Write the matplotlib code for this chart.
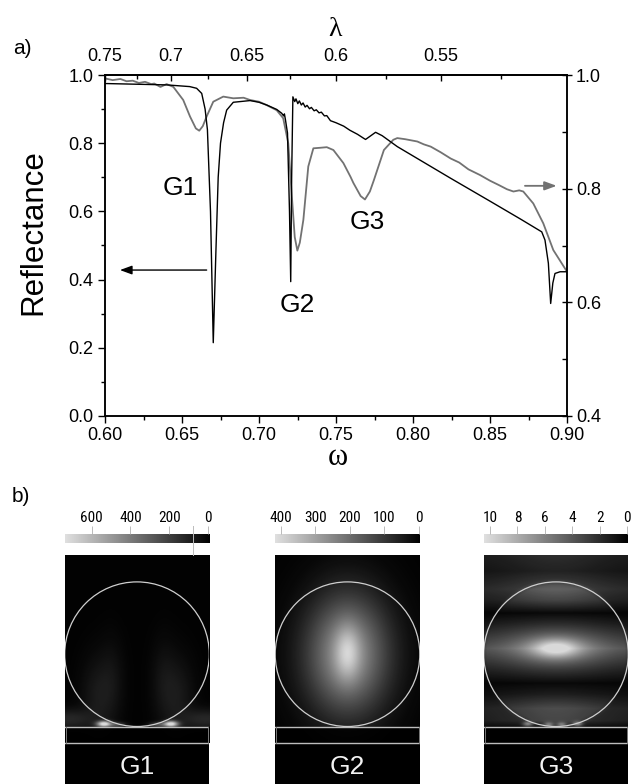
import numpy as np
import matplotlib
matplotlib.use('Agg')
import matplotlib.pyplot as plt
from matplotlib.colors import LinearSegmentedColormap
from matplotlib.ticker import FixedLocator, FuncFormatter, MultipleLocator
from matplotlib.patches import Circle, Rectangle
from matplotlib.lines import Line2D
from matplotlib import font_manager

# ---------------- data: panel a ----------------
black_w = [0.600, 0.620, 0.640, 0.655, 0.6595, 0.6628, 0.6650, 0.6665, 0.6685, 0.6703,
           0.6720, 0.6735, 0.6750, 0.6770, 0.6790, 0.6833, 0.6942, 0.7000, 0.7050, 0.7115,
           0.7147, 0.7160, 0.7165, 0.7172, 0.7185, 0.7198, 0.7206, 0.7212, 0.7220, 0.7232,
           0.7240, 0.7252, 0.7262, 0.7275, 0.7286, 0.7300, 0.7312, 0.7328, 0.7340, 0.7358,
           0.7372, 0.7390, 0.7405, 0.7425, 0.7440, 0.7464, 0.7500, 0.7550, 0.7590, 0.7640,
           0.7681, 0.7692, 0.7720, 0.7757, 0.7800, 0.7898, 0.8245, 0.8500, 0.8700, 0.8836,
           0.8857, 0.8879, 0.8894, 0.8908, 0.8922, 0.8955, 0.9000]
black_R = [0.975, 0.973, 0.971, 0.966, 0.961, 0.946, 0.900, 0.840, 0.600, 0.215,
           0.480, 0.700, 0.800, 0.860, 0.897, 0.920, 0.925, 0.920, 0.912, 0.899,
           0.888, 0.880, 0.886, 0.868, 0.830, 0.600, 0.394, 0.700, 0.936, 0.922,
           0.930, 0.916, 0.924, 0.912, 0.918, 0.906, 0.911, 0.901, 0.905, 0.895,
           0.898, 0.889, 0.891, 0.880, 0.881, 0.866, 0.860, 0.850, 0.838, 0.826,
           0.814, 0.811, 0.820, 0.832, 0.822, 0.790, 0.697, 0.630, 0.577, 0.540,
           0.516, 0.448, 0.330, 0.390, 0.418, 0.423, 0.423]

grey_w = [0.600, 0.605, 0.610, 0.614, 0.618, 0.622, 0.626, 0.630, 0.632, 0.636,
          0.640, 0.6444, 0.6508, 0.6552, 0.6590, 0.6612, 0.6635, 0.6660, 0.6703, 0.6768,
          0.6833, 0.6900, 0.6942, 0.7000, 0.7050, 0.7115, 0.7157, 0.7190, 0.7212, 0.7232,
          0.7249, 0.7265, 0.7288, 0.7320, 0.7353, 0.7400, 0.7440, 0.7483, 0.7548, 0.7594,
          0.7613, 0.7660, 0.7688, 0.7720, 0.7746, 0.7811, 0.7872, 0.7898, 0.7950, 0.8028,
          0.8070, 0.8115, 0.8180, 0.8245, 0.8300, 0.8360, 0.8435, 0.8500, 0.8560, 0.8610,
          0.8652, 0.8690, 0.8716, 0.8781, 0.8846, 0.8911, 0.9000]
grey_R = [0.994, 0.991, 0.993, 0.989, 0.990, 0.986, 0.988, 0.984, 0.985, 0.979,
          0.984, 0.979, 0.956, 0.927, 0.906, 0.902, 0.910, 0.927, 0.953, 0.962,
          0.959, 0.960, 0.956, 0.953, 0.947, 0.938, 0.924, 0.880, 0.792, 0.715,
          0.691, 0.705, 0.745, 0.839, 0.871, 0.872, 0.873, 0.868, 0.845, 0.821,
          0.810, 0.787, 0.781, 0.795, 0.815, 0.868, 0.886, 0.889, 0.887, 0.883,
          0.878, 0.874, 0.864, 0.853, 0.846, 0.834, 0.824, 0.814, 0.806, 0.799,
          0.795, 0.797, 0.795, 0.774, 0.739, 0.692, 0.654]

lam_major = [0.75, 0.7, 0.65, 0.6, 0.55]
lam_minor = [0.725, 0.675, 0.625, 0.575, 0.525]
lam_const = 0.45   # lambda = 0.45 / omega

peak_labels = ["G1", "G2", "G3"]
peak_label_w = [0.6488, 0.7247, 0.7703]
peak_label_R = [0.668, 0.3255, 0.570]

# ---------------- data: panel b ----------------
cbar_ticks = [[600, 400, 200, 0], [400, 300, 200, 100, 0], [10, 8, 6, 4, 2, 0]]
cbar_range = [(737, -6), (416, -3), (10.44, -0.06)]

# blobs: (u, v, sigma_u, sigma_v, amplitude) in units of the circle radius
G1_blobs = [(-0.46, 0.965, 0.07, 0.03, 0.95), (0.46, 0.965, 0.07, 0.03, 0.95),
            (-0.28, 0.975, 0.08, 0.025, 0.30), (0.28, 0.975, 0.08, 0.025, 0.30),
            (-0.95, 0.90, 0.22, 0.10, 0.16), (0.95, 0.90, 0.22, 0.10, 0.16),
            (-0.55, 0.60, 0.16, 0.40, 0.10), (0.55, 0.60, 0.16, 0.40, 0.10),
            (-0.35, 0.35, 0.12, 0.40, 0.06), (0.35, 0.35, 0.12, 0.40, 0.06)]
G2_blobs = [(0.0, 0.0, 0.40, 0.58, 0.65), (0.0, -0.02, 0.12, 0.26, 0.30)]
G3_blobs = [(0.0, -0.08, 0.22, 0.09, 0.40), (0.0, -0.08, 0.45, 0.15, 0.12),
            (-0.39, 0.965, 0.05, 0.025, 0.45), (-0.10, 0.975, 0.05, 0.025, 0.40),
            (0.08, 0.975, 0.05, 0.025, 0.40), (0.30, 0.965, 0.05, 0.025, 0.45)]
G3_band_v = [-1.40, -1.15, -0.90, -0.75, -0.57, -0.42, -0.08, 0.22, 0.40, 0.55, 0.75, 0.92, 1.02, 1.30]
G3_band_I = [0.28, 0.20, 0.42, 0.30, 0.03, 0.18, 0.58, 0.22, 0.03, 0.12, 0.33, 0.30, 0.05, 0.02]

# ---------------- fonts ----------------
names = {f.name for f in font_manager.fontManager.ttflist}
plt.rcParams['font.family'] = ['Liberation Sans', 'DejaVu Sans']
plt.rcParams['mathtext.fontset'] = 'custom'
plt.rcParams['mathtext.rm'] = 'Liberation Serif'
plt.rcParams['mathtext.it'] = 'Liberation Serif'
cond_font = None
for nm in ['Liberation Sans Narrow', 'Roboto Condensed', 'Open Sans Condensed', 'Noto Sans Condensed']:
    if nm in names:
        cond_font = nm
        break

W, H = 631, 784
fig = plt.figure(figsize=(W / 100, H / 100), dpi=100)


def fx(px):
    return px / W


def fy(py):
    return 1 - py / H


def axes_px(x0, y0, x1, y1, **kw):
    return fig.add_axes([fx(x0), fy(y1), (x1 - x0) / W, (y1 - y0) / H], **kw)


# ---------------- panel a ----------------
ax = axes_px(105, 75, 567, 416)
ax2 = ax.twinx()
ax.set_zorder(ax2.get_zorder() + 1)
ax.patch.set_visible(False)

ax2.plot(grey_w, grey_R, color='#727272', lw=1.3)
ax.plot(black_w, black_R, color='black', lw=1.0)
ax.set_xlim(0.6, 0.9)
ax.set_ylim(0, 1)
ax2.set_ylim(0.4, 1.0)

ax.xaxis.set_major_locator(MultipleLocator(0.05))
ax.xaxis.set_minor_locator(MultipleLocator(0.025))
ax.xaxis.set_major_formatter(FuncFormatter(lambda v, p: '%.2f' % v))
ax.yaxis.set_major_locator(MultipleLocator(0.2))
ax.yaxis.set_minor_locator(MultipleLocator(0.1))
ax.yaxis.set_major_formatter(FuncFormatter(lambda v, p: '%.1f' % v))
ax.tick_params(which='major', direction='out', length=4.7, width=1.0, labelsize=13, pad=3.5,
               right=False, top=False)
ax.tick_params(which='minor', direction='out', length=2.8, width=1.0, right=False, top=False)

ax2.yaxis.set_major_locator(MultipleLocator(0.2))
ax2.yaxis.set_minor_locator(MultipleLocator(0.1))
ax2.yaxis.set_major_formatter(FuncFormatter(lambda v, p: '%.1f' % v))
ax2.tick_params(axis='y', which='major', direction='inout', length=7, width=1.0, labelsize=13, pad=3)
ax2.tick_params(axis='y', which='minor', direction='in', length=3.5, width=1.0)


def w2lam(w):
    w = np.asarray(w, dtype=float)
    with np.errstate(divide='ignore', invalid='ignore'):
        return lam_const / w


sec = ax.secondary_xaxis('top', functions=(w2lam, w2lam))
sec.xaxis.set_major_locator(FixedLocator(lam_major))
sec.xaxis.set_minor_locator(FixedLocator(lam_minor))
sec.xaxis.set_major_formatter(FuncFormatter(lambda v, p: '%g' % round(v, 3)))
sec.tick_params(which='major', direction='in', length=4, width=1.0, labelsize=13, pad=7)
sec.tick_params(which='minor', direction='in', length=3, width=1.0)

for a in (ax, ax2):
    for s in a.spines.values():
        s.set_linewidth(1.1)
for s in sec.spines.values():
    s.set_linewidth(1.1)

for lab, w, r in zip(peak_labels, peak_label_w, peak_label_R):
    ax.text(w, r, lab, fontsize=19, ha='center', va='center')

ax.annotate('', xy=(0.6097, 0.428), xytext=(0.666, 0.428),
            arrowprops=dict(arrowstyle='-|>,head_length=0.6,head_width=0.22', color='black',
                            lw=1.0, mutation_scale=12, shrinkA=0, shrinkB=0))
ax2.annotate('', xy=(0.8933, 0.805), xytext=(0.8727, 0.805),
             arrowprops=dict(arrowstyle='-|>,head_length=0.6,head_width=0.22', color='#727272',
                             lw=1.3, mutation_scale=12, shrinkA=0, shrinkB=0))

fig.text(fx(33.5), fy(232.5), 'Reflectance', rotation=90, fontsize=22.5, ha='center', va='center')
fig.text(fx(335.5), fy(29), r'$\lambda$', fontsize=20, ha='center', va='center')
fig.text(fx(337), fy(457), r'$\omega$', fontsize=22, ha='center', va='center')
fig.text(fx(22), fy(49), 'a)', fontsize=15, ha='center', va='center')
fig.text(fx(21), fy(496), 'b)', fontsize=15, ha='center', va='center')

# ---------------- panel b ----------------
cmap = LinearSegmentedColormap.from_list('fld', ['#000000', '#e0e0e0'])
box_x = [(65, 209), (275, 420), (484, 628)]
RAD, CY = 72.3, 99.2


def field(width, blobs, bands=None):
    nx, ny = int(round(width)), 188
    xs = (np.arange(nx) + 0.5) * width / nx
    ys = np.arange(ny) + 0.5
    U, V = np.meshgrid((xs - width / 2) / RAD, (ys - CY) / RAD)
    F = np.full(U.shape, 0.012)
    rho = np.hypot(U, V)
    if bands is not None:
        prof = np.interp(V, bands[0], bands[1])
        env = 0.55 + 0.45 * np.exp(-U ** 2 / (2 * 0.5 ** 2))
        inside = np.clip((1.05 - rho) / 0.1, 0, 1)
        F = F + prof * env * (0.7 + 0.3 * inside)
    for (u0, v0, su, sv, amp) in blobs:
        F = F + amp * np.exp(-((U - u0) ** 2 / (2 * su ** 2) + (V - v0) ** 2 / (2 * sv ** 2)))
    strip = (ys - 0.5 >= 172)[:, None]
    F = np.where(strip, F * 0.15, F)
    return np.clip(F, 0, 0.97)


fields = [field(box_x[0][1] - box_x[0][0], G1_blobs),
          field(box_x[1][1] - box_x[1][0], G2_blobs),
          field(box_x[2][1] - box_x[2][0], G3_blobs, (G3_band_v, G3_band_I))]

for i in range(3):
    x0, x1 = box_x[i]
    w = x1 - x0
    vl, vr = cbar_range[i]
    # colour bar
    cax = axes_px(x0, 534.3, x1, 543.3)
    grad = np.linspace(vl, vr, 256)[None, :]
    cax.imshow(grad, extent=[vl, vr, 0, 1], aspect='auto', cmap=cmap, vmin=vr, vmax=vl)
    cax.set_xlim(vl, vr)
    cax.set_ylim(0, 1)
    cax.set_yticks([])
    cax.xaxis.tick_top()
    cax.set_xticks(cbar_ticks[i])
    cax.set_xticklabels([str(t) for t in cbar_ticks[i]])
    kw = dict(fontsize=11)
    if cond_font:
        kw['family'] = cond_font
    for tl in cax.get_xticklabels():
        tl.set(**kw)
    cax.tick_params(axis='x', direction='out', length=5.5, width=0.6, color='#b0b0b0', pad=1)
    for s in cax.spines.values():
        s.set_visible(False)

    # field map
    fax = axes_px(x0, 555, x1, 784)
    fax.set_xlim(0, w)
    fax.set_ylim(229, 0)
    fax.axis('off')
    fax.add_patch(Rectangle((0, 0), w, 229, color='black', zorder=0))
    fax.imshow(fields[i], extent=[0, w, 188, 0], cmap=cmap, vmin=0, vmax=1,
               interpolation='bilinear', aspect='auto', zorder=1)
    fax.add_patch(Circle((w / 2, CY), RAD, fill=False, ec='#cfcfcf', lw=0.9, zorder=3))
    fax.plot([0, w], [172, 172], color='#bdbdbd', lw=1.0, zorder=3)
    fax.plot([0, w], [188, 188], color='#bdbdbd', lw=1.0, zorder=3)
    fax.plot([0.6, 0.6], [172, 188], color='#7a7a7a', lw=0.7, zorder=3)
    fax.plot([w - 0.6, w - 0.6], [172, 188], color='#7a7a7a', lw=0.7, zorder=3)
    fax.text(w / 2, 211.7, peak_labels[i], color='#f2f2f2', fontsize=19, ha='center', va='center',
             zorder=4)

fig.add_artist(Line2D([fx(193.3)] * 2, [fy(526), fy(555)], color='#bbbbbb', lw=0.7))

fig.savefig('out.png', dpi=100)
